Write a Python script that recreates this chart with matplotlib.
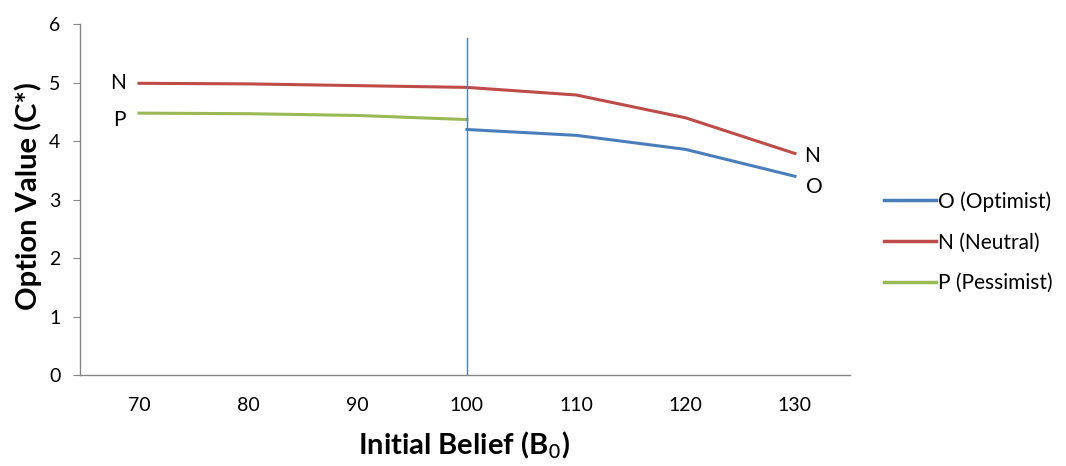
import matplotlib
matplotlib.use("Agg")
import matplotlib.pyplot as plt

beliefs = [70, 80, 90, 100, 110, 120, 130]
optimist_x = [100, 110, 120, 130]
optimist = [4.20, 4.10, 3.86, 3.40]
neutral_x = [70, 80, 90, 100, 110, 120, 130]
neutral = [4.99, 4.98, 4.95, 4.92, 4.79, 4.40, 3.79]
pessimist_x = [70, 80, 90, 100]
pessimist = [4.48, 4.47, 4.44, 4.37]
yticks = [0, 1, 2, 3, 4, 5, 6]
vline_x = 100
vline_top = 5.76

plt.rcParams['font.family'] = ['Lato', 'DejaVu Sans']

fig = plt.figure(figsize=(10.66, 4.66), dpi=100)
ax = fig.add_axes([0.075, 0.195, 0.722, 0.753])

blue = '#4A7EBB'
red = '#BE4B48'
green = '#98B954'

ax.plot(optimist_x, optimist, color=blue, lw=2.2, label='O (Optimist)')
ax.plot(neutral_x, neutral, color=red, lw=2.2, label='N (Neutral)')
ax.plot(pessimist_x, pessimist, color=green, lw=2.2, label='P (Pessimist)')
ax.plot([vline_x, vline_x], [0, vline_top], color=blue, lw=1.0)

lab_fs = 15
ax.text(68.1, 5.0, 'N', ha='center', va='center', fontsize=lab_fs)
ax.text(68.25, 4.36, 'P', ha='center', va='center', fontsize=lab_fs)
ax.text(131.6, 3.74, 'N', ha='center', va='center', fontsize=lab_fs)
ax.text(131.8, 3.21, 'O', ha='center', va='center', fontsize=lab_fs)

ax.set_xlim(64.6, 135.0)
ax.set_ylim(0, 6)
ax.set_xticks(beliefs)
ax.set_yticks(yticks)
ax.tick_params(axis='x', length=0, pad=16, labelsize=14)
ax.tick_params(axis='y', length=5, direction='out', color='#868686', pad=9, labelsize=14)
for s in ['top', 'right']:
    ax.spines[s].set_visible(False)
for s in ['left', 'bottom']:
    ax.spines[s].set_color('#868686')
    ax.spines[s].set_linewidth(1.0)

ax.set_xlabel('Initial Belief (B$_0$)', fontsize=21, fontweight='bold')
ax.xaxis.label.set_va('center')
ax.xaxis.set_label_coords(0.499, -0.2)
ax.set_ylabel('Option Value (C*)', fontsize=21, fontweight='bold')
ax.yaxis.label.set_va('center')
ax.yaxis.set_label_coords(-0.067, 0.51)

leg = ax.legend(loc='center left', bbox_to_anchor=(1.045, 0.379), frameon=False,
                fontsize=15, handlelength=2.5, handletextpad=0.1, labelspacing=1.0,
                borderpad=0, borderaxespad=0)
for h in leg.get_lines():
    h.set_linewidth(2.5)

fig.savefig('out.png', dpi=100)
